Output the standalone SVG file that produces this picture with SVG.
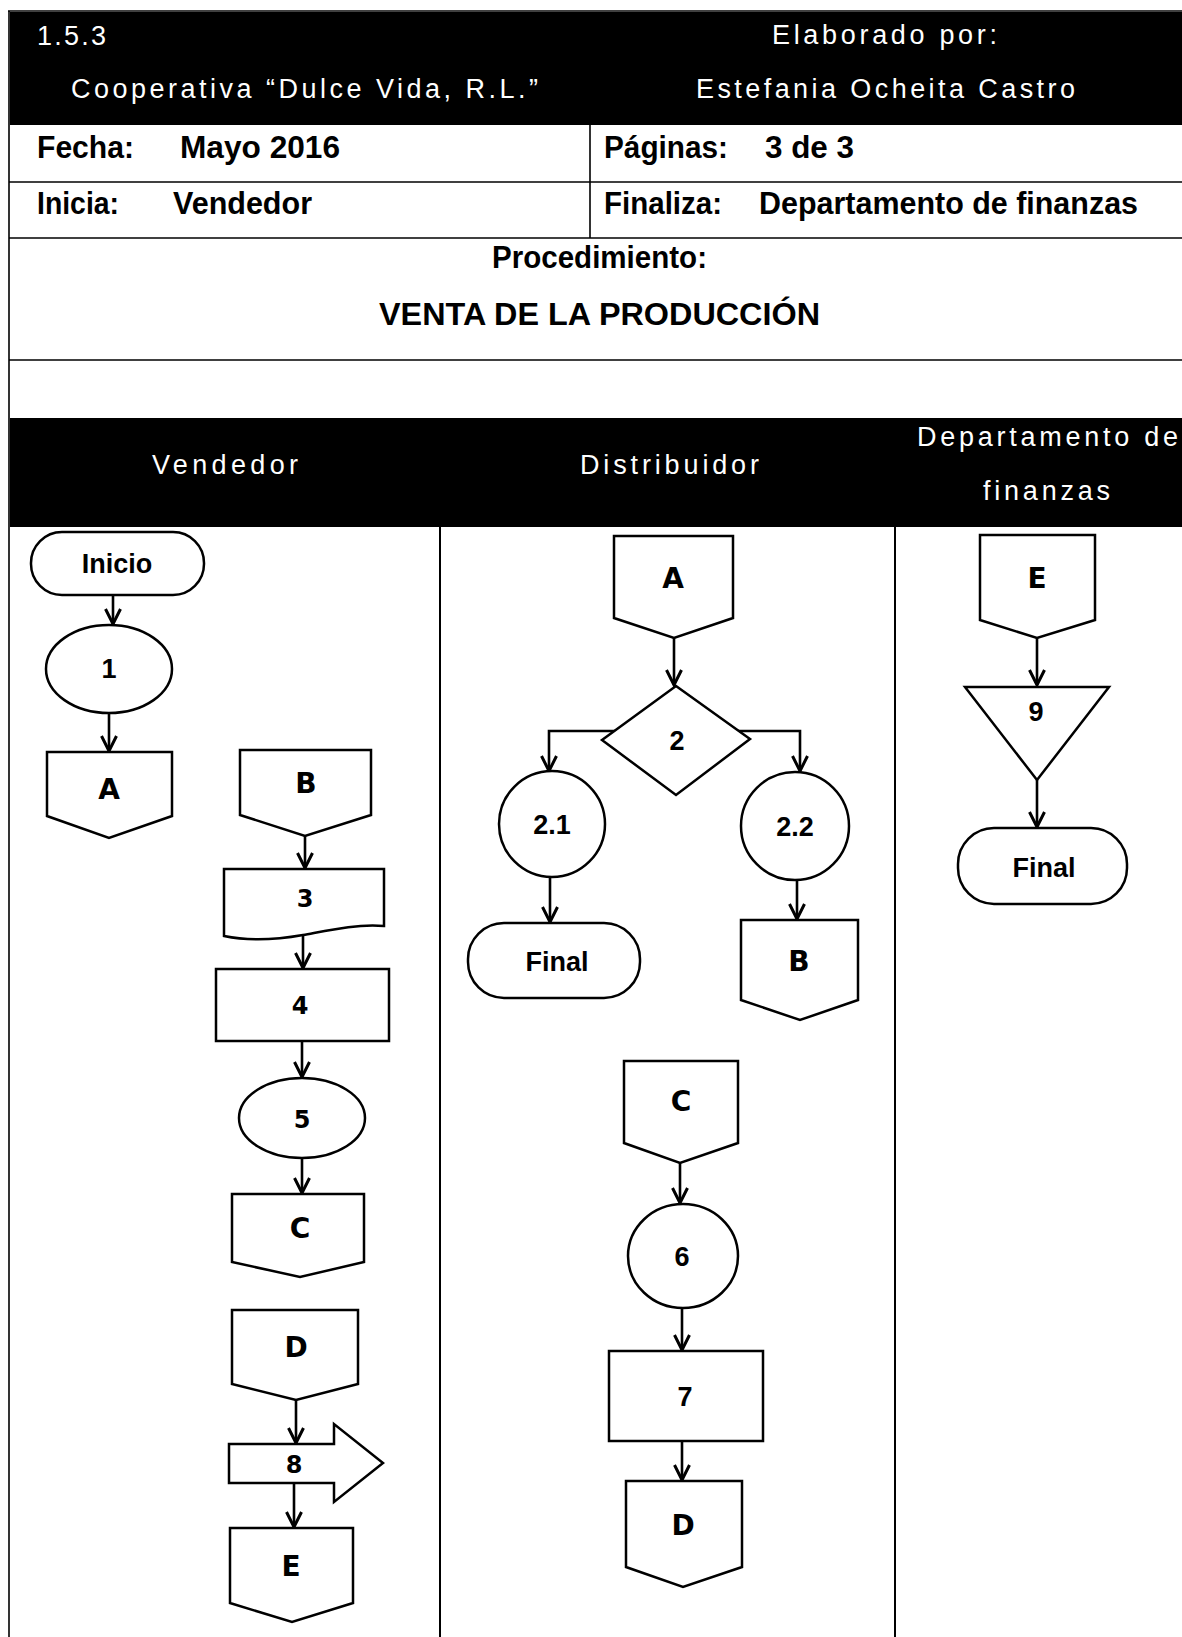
<svg xmlns="http://www.w3.org/2000/svg" width="1182" height="1637" viewBox="0 0 1182 1637">
<style>
.hdr{font-family:"Liberation Sans",Arial,sans-serif;font-size:27px;fill:#fff;}
.tb{font-family:"Liberation Sans",Arial,sans-serif;font-size:32px;font-weight:bold;fill:#000;}
.grid{stroke:#000;stroke-width:1.6;fill:none;}
.shp{fill:#fff;stroke:#000;stroke-width:2.5;}
.lbl{font-family:"Liberation Sans",Arial,sans-serif;font-size:27px;font-weight:bold;fill:#000;text-anchor:middle;}
.ltr{font-family:"DejaVu Sans","Liberation Sans",sans-serif;font-size:28px;font-weight:bold;fill:#000;text-anchor:middle;}
.dig{font-family:"DejaVu Sans","Liberation Sans",sans-serif;font-size:24px;font-weight:bold;fill:#000;text-anchor:middle;}
.con{fill:none;stroke:#000;stroke-width:2.6;marker-end:url(#arr);}
.lane{stroke:#000;stroke-width:2;}
</style>
<defs>
<marker id="arr" viewBox="0 0 18 18" markerWidth="18" markerHeight="18" refX="16" refY="9" orient="auto" markerUnits="userSpaceOnUse">
<path d="M1,1.5 L16,9 L1,16.5" fill="none" stroke="#000" stroke-width="3"/>
</marker>
</defs>
<rect width="1182" height="1637" fill="#fff"/>
<g id="table">
<rect x="10" y="12" width="1172" height="113" fill="#000"/>
<line class="grid" x1="8" y1="11" x2="1182" y2="11"/>
<line class="grid" x1="9" y1="11" x2="9" y2="1637"/>
<line class="grid" x1="9" y1="182" x2="1182" y2="182"/>
<line class="grid" x1="9" y1="238" x2="1182" y2="238"/>
<line class="grid" x1="9" y1="360" x2="1182" y2="360"/>
<line class="grid" x1="590" y1="125" x2="590" y2="238"/>
<text class="hdr" x="37" y="45" textLength="69" lengthAdjust="spacing">1.5.3</text>
<text class="hdr" x="772" y="44" textLength="225" lengthAdjust="spacing">Elaborado por:</text>
<text class="hdr" x="71" y="98" textLength="467" lengthAdjust="spacing">Cooperativa “Dulce Vida, R.L.”</text>
<text class="hdr" x="696" y="98" textLength="379" lengthAdjust="spacing">Estefania Ocheita Castro</text>
<text class="tb" x="37" y="158" textLength="97" lengthAdjust="spacingAndGlyphs">Fecha:</text>
<text class="tb" x="180" y="158" textLength="160" lengthAdjust="spacingAndGlyphs">Mayo 2016</text>
<text class="tb" x="604" y="158" textLength="124" lengthAdjust="spacingAndGlyphs">Páginas:</text>
<text class="tb" x="765" y="158" textLength="89" lengthAdjust="spacingAndGlyphs">3 de 3</text>
<text class="tb" x="37" y="214" textLength="82" lengthAdjust="spacingAndGlyphs">Inicia:</text>
<text class="tb" x="173" y="214" textLength="139" lengthAdjust="spacingAndGlyphs">Vendedor</text>
<text class="tb" x="604" y="214" textLength="118" lengthAdjust="spacingAndGlyphs">Finaliza:</text>
<text class="tb" x="759" y="214" textLength="379" lengthAdjust="spacingAndGlyphs">Departamento de finanzas</text>
<text class="tb" x="492" y="268" textLength="215" lengthAdjust="spacingAndGlyphs">Procedimiento:</text>
<text class="tb" x="379" y="325" textLength="441" lengthAdjust="spacingAndGlyphs">VENTA DE LA PRODUCCIÓN</text>
</g>
<g id="lanes">
<rect x="10" y="418" width="1172" height="109" fill="#000"/>
<text class="hdr" x="152" y="474" textLength="146" lengthAdjust="spacing">Vendedor</text>
<text class="hdr" x="580" y="474" textLength="179" lengthAdjust="spacing">Distribuidor</text>
<text class="hdr" x="917" y="446" textLength="261" lengthAdjust="spacing">Departamento de</text>
<text class="hdr" x="983" y="500" textLength="127" lengthAdjust="spacing">finanzas</text>
<line class="lane" x1="440" y1="527" x2="440" y2="1637"/>
<line class="lane" x1="895" y1="527" x2="895" y2="1637"/>
</g>
<g id="connectors">
<path class="con" d="M113,595 V624"/>
<path class="con" d="M109,713 V751"/>
<path class="con" d="M305,836 V868"/>
<path class="con" d="M303,934 V968"/>
<path class="con" d="M302,1041 V1077"/>
<path class="con" d="M302,1158 V1193"/>
<path class="con" d="M296,1400 V1443"/>
<path class="con" d="M294,1483 V1527"/>
<path class="con" d="M674,638 V685"/>
<path class="con" d="M615,731 H549 V771"/>
<path class="con" d="M737,731 H800 V771"/>
<path class="con" d="M550,877 V922"/>
<path class="con" d="M797,879 V919"/>
<path class="con" d="M680,1163 V1203"/>
<path class="con" d="M682,1309 V1350"/>
<path class="con" d="M682,1441 V1480"/>
<path class="con" d="M1037,638 V685"/>
<path class="con" d="M1037,780 V827"/>
</g>
<g id="n-inicio">
<rect class="shp" x="31" y="532" width="173" height="63" rx="31"/>
<text class="lbl" x="117" y="573">Inicio</text>
</g>
<g id="n-1">
<ellipse class="shp" cx="109" cy="669" rx="63" ry="44"/>
<text class="lbl" x="109" y="678">1</text>
</g>
<g id="n-a1">
<path class="shp" d="M47,752 H172 V816 L109,838 L47,816 Z"/>
<text class="ltr" x="109" y="799">A</text>
</g>
<g id="n-b1">
<path class="shp" d="M240,750 H371 V815 L305,836 L240,815 Z"/>
<text class="ltr" x="306" y="793">B</text>
</g>
<g id="n-3">
<path class="shp" d="M224,869 H384 V926 C355,924 330,930 303,935 C275,940 248,941 224,936 Z"/>
<text class="dig" x="305" y="907">3</text>
</g>
<g id="n-4">
<rect class="shp" x="216" y="969" width="173" height="72"/>
<text class="dig" x="300" y="1014">4</text>
</g>
<g id="n-5">
<ellipse class="shp" cx="302" cy="1118" rx="63" ry="40"/>
<text class="dig" x="302" y="1128">5</text>
</g>
<g id="n-c1">
<path class="shp" d="M232,1194 H364 V1262 L300,1277 L232,1262 Z"/>
<text class="ltr" x="300" y="1238">C</text>
</g>
<g id="n-d1">
<path class="shp" d="M232,1310 H358 V1384 L296,1400 L232,1384 Z"/>
<text class="ltr" x="296" y="1357">D</text>
</g>
<g id="n-8">
<path class="shp" d="M229,1444 H334 V1424 L383,1463 L334,1502 V1483 H229 Z"/>
<text class="dig" x="294" y="1473">8</text>
</g>
<g id="n-e1">
<path class="shp" d="M230,1528 H353 V1603 L292,1622 L230,1603 Z"/>
<text class="ltr" x="291" y="1576">E</text>
</g>
<g id="n-a2">
<path class="shp" d="M614,536 H733 V618 L674,638 L614,618 Z"/>
<text class="ltr" x="673" y="588">A</text>
</g>
<g id="n-2">
<path class="shp" d="M676,686 L750,739 L676,795 L602,740 Z"/>
<text class="lbl" x="677" y="750">2</text>
</g>
<g id="n-21">
<circle class="shp" cx="552" cy="824" r="53"/>
<text class="lbl" x="552" y="834">2.1</text>
</g>
<g id="n-22">
<circle class="shp" cx="795" cy="826" r="54"/>
<text class="lbl" x="795" y="836">2.2</text>
</g>
<g id="n-final1">
<rect class="shp" x="468" y="923" width="172" height="75" rx="36"/>
<text class="lbl" x="557" y="971">Final</text>
</g>
<g id="n-b2">
<path class="shp" d="M741,920 H858 V1000 L800,1020 L741,1000 Z"/>
<text class="ltr" x="799" y="971">B</text>
</g>
<g id="n-c2">
<path class="shp" d="M624,1061 H738 V1143 L680,1163 L624,1143 Z"/>
<text class="ltr" x="681" y="1111">C</text>
</g>
<g id="n-6">
<ellipse class="shp" cx="683" cy="1256" rx="55" ry="52"/>
<text class="lbl" x="682" y="1266">6</text>
</g>
<g id="n-7">
<rect class="shp" x="609" y="1351" width="154" height="90"/>
<text class="lbl" x="685" y="1406">7</text>
</g>
<g id="n-d2">
<path class="shp" d="M626,1481 H742 V1567 L683,1587 L626,1567 Z"/>
<text class="ltr" x="683" y="1535">D</text>
</g>
<g id="n-e2">
<path class="shp" d="M980,535 H1095 V620 L1037,638 L980,620 Z"/>
<text class="ltr" x="1037" y="588">E</text>
</g>
<g id="n-9">
<path class="shp" d="M965,687 H1109 L1037,780 Z"/>
<text class="lbl" x="1036" y="721">9</text>
</g>
<g id="n-final2">
<rect class="shp" x="958" y="828" width="169" height="76" rx="36"/>
<text class="lbl" x="1044" y="877">Final</text>
</g>
</svg>
